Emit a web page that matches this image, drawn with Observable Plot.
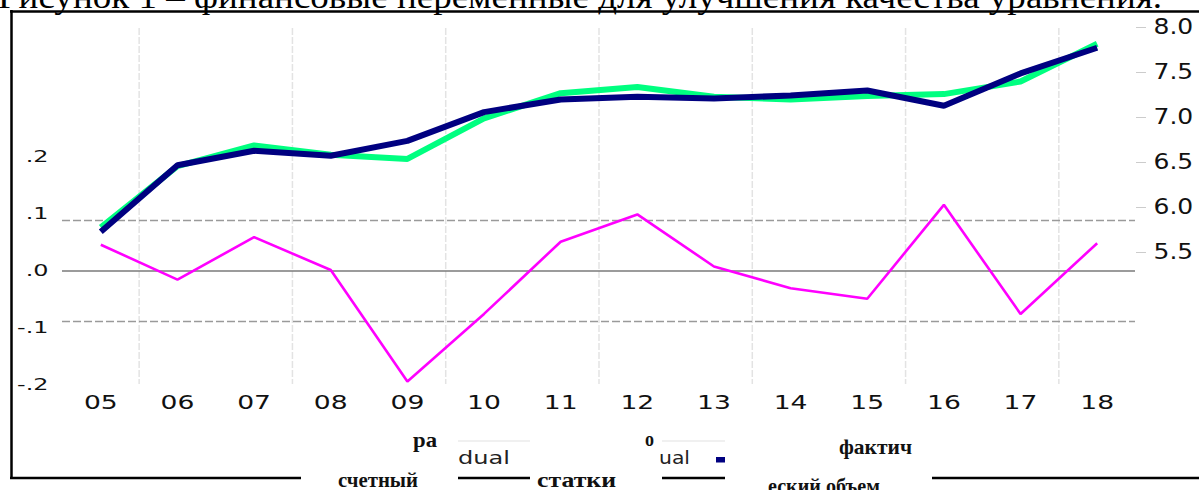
<!DOCTYPE html>
<html><head><meta charset="utf-8">
<script src="https://cdn.jsdelivr.net/npm/d3@7"></script>
<script src="https://cdn.jsdelivr.net/npm/@observablehq/plot@0.6"></script>
<style>
body{margin:0;background:#fff;}
#wrap{position:relative;width:1199px;height:490px;overflow:hidden;background:#fff;}
#wrap > svg{position:absolute;left:0;top:0;}
</style></head><body><div id="wrap"></div>
<script>
// ---- data ----
const years = ["05","06","07","08","09","10","11","12","13","14","15","16","17","18"];
const actual = [5.78, 6.46, 6.69, 6.585, 6.54, 6.99, 7.27, 7.34, 7.23, 7.20, 7.24, 7.26, 7.40, 7.82];
const fitted = [5.73, 6.47, 6.63, 6.575, 6.74, 7.06, 7.20, 7.23, 7.21, 7.245, 7.30, 7.13, 7.49, 7.775];
const residual = [0.052, -0.017, 0.067, 0.002, -0.219, -0.085, 0.058, 0.112, 0.009, -0.034, -0.055, 0.131, -0.085, 0.055];
const resTicks = [-0.2, -0.1, 0, 0.1, 0.2];
const resGrid = [-0.1, 0.1];
const lvlTicks = [5.5, 6.0, 6.5, 7.0, 7.5, 8.0];
const titleText = "Рисунок 1 – финансовые переменные для улучшения качества уравнения.";

const W = 1199, H = 490;
const idx = years.map((d, i) => i);
const resRows = idx.map(i => ({i, r: residual[i]}));
const lvlRows = idx.map(i => ({i, a: actual[i], f: fitted[i]}));
const gridX = idx.filter(i => i % 2 === 0 && i < years.length - 1).map(i => i + 0.5);
const xOpt = {domain: [-0.5, years.length - 0.5], range: [62, 1135], label: null};
const fmtRes = d => d === 0 ? ".0" : (d < 0 ? "-" : "") + "." + Math.round(Math.abs(d) * 10);

function stretch(svg, label, sx) {
  svg.querySelectorAll(`g[aria-label="${label}"] text`).forEach(t => {
    const tr = t.getAttribute("transform") || "";
    const x = +(t.getAttribute("x") || 0);
    t.removeAttribute("x");
    t.setAttribute("transform", `${tr} translate(${x},0) scale(${sx},1)`);
  });
}

const common = {width: W, height: H, marginTop: 28, marginBottom: 106, marginLeft: 62, marginRight: 64,
  style: {background: "transparent", fontFamily: "DejaVu Sans", color: "#111", overflow: "visible"}};

// residual layer with grid and x axis
const base = Plot.plot({
  ...common,
  x: {...xOpt, axis: null},
  y: {domain: [-0.2, 0.2], range: [371.5, 169.5], axis: null, label: null},
  marks: [
    Plot.ruleX(gridX, {stroke: "#e3e3e3", strokeWidth: 1.5, strokeDasharray: "7,2"}),
    Plot.ruleY(resGrid, {stroke: "#9a9a9a", strokeWidth: 1.3, strokeDasharray: "8,3"}),
    Plot.ruleY([0], {stroke: "#7a7a7a", strokeWidth: 1.6}),
    Plot.line(resRows, {x: "i", y: "r", stroke: "#ff00ff", strokeWidth: 2.6, strokeLinejoin: "miter", strokeLinecap: "butt"}),
    Plot.axisX({ticks: idx, tickFormat: i => years[i], tickSize: 0, tickPadding: 11, fontSize: 19, anchor: "bottom", fill: "#111", label: null})
  ]
});
stretch(base, "x-axis tick label", 1.4);

// actual / fitted layer with right axis
const lvl = Plot.plot({
  ...common,
  x: {...xOpt, axis: null},
  y: {domain: [5.5, 8.0], range: [252, 27], axis: null, label: null},
  marks: [
    Plot.line(lvlRows, {x: "i", y: "a", stroke: "#00ff80", strokeWidth: 6, strokeLinejoin: "miter", strokeLinecap: "butt"}),
    Plot.line(lvlRows, {x: "i", y: "f", stroke: "#000080", strokeWidth: 6, strokeLinejoin: "miter", strokeLinecap: "butt"}),
    Plot.axisY({anchor: "right", ticks: lvlTicks, tickFormat: d3.format(".1f"), tickSize: 10, tickPadding: 8, fontSize: 20.5, stroke: "#cccccc", fill: "#111", label: null})
  ]
});
stretch(lvl, "y-axis tick label", 1.22);

// left residual axis labels
const leftAx = Plot.plot({
  ...common,
  y: {domain: [-0.2, 0.2], range: [384, 156], axis: null, label: null},
  marks: [
    Plot.axisY({anchor: "left", ticks: resTicks, tickFormat: fmtRes, tickSize: 0, tickPadding: 14, fontSize: 16.5, fill: "#111", label: null})
  ]
});
stretch(leftAx, "y-axis tick label", 1.45);

const wrap = document.getElementById("wrap");
wrap.appendChild(base);
wrap.appendChild(lvl);
wrap.appendChild(leftAx);

// decorations: caption, frame, fragmentary legend
const ns = "http://www.w3.org/2000/svg";
const deco = document.createElementNS(ns, "svg");
deco.setAttribute("width", W); deco.setAttribute("height", H);
function el(tag, attrs, text) {
  const e = document.createElementNS(ns, tag);
  for (const k in attrs) e.setAttribute(k, attrs[k]);
  if (text != null) e.textContent = text;
  deco.appendChild(e);
  return e;
}
el("text", {x: -2, y: 8, "font-family": "Liberation Serif", "font-size": 34, fill: "#000", textLength: 1164, lengthAdjust: "spacingAndGlyphs"}, titleText);
const blk = {stroke: "#000", "stroke-width": 2.5};
el("line", {x1: 10, y1: 11.5, x2: W, y2: 11.5, ...blk});
el("line", {x1: 11.5, y1: 10, x2: 11.5, y2: 479, ...blk});
[[10, 301], [458, 530], [662, 725], [932, W]].forEach(([a, b]) => el("line", {x1: a, y1: 478, x2: b, y2: 478, ...blk}));
[[458, 530], [662, 725]].forEach(([a, b]) => el("line", {x1: a, y1: 441, x2: b, y2: 441, stroke: "#e2e2e2", "stroke-width": 1.2}));
const serifB = {"font-family": "Liberation Serif", "font-weight": "bold", "font-size": 21, fill: "#111", lengthAdjust: "spacingAndGlyphs"};
const sans = {"font-family": "DejaVu Sans", "font-size": 17, fill: "#222", lengthAdjust: "spacingAndGlyphs"};
el("text", {...serifB, x: 413, y: 447, textLength: 24}, "ра");
el("text", {...serifB, x: 338, y: 486.5, textLength: 80}, "счетный");
el("text", {...sans, x: 458, y: 464, textLength: 52}, "dual");
el("text", {...serifB, x: 537, y: 487, textLength: 79}, "статки");
el("text", {...serifB, x: 645, y: 446, textLength: 9}, "о");
el("text", {...sans, x: 659, y: 464, textLength: 31}, "ual");
el("rect", {x: 716, y: 457, width: 9, height: 5.5, fill: "#000080"});
el("text", {...serifB, x: 839, y: 454, textLength: 73}, "фактич");
el("text", {...serifB, x: 768, y: 493, textLength: 112}, "еский объем");
wrap.appendChild(deco);
</script>
</body></html>
